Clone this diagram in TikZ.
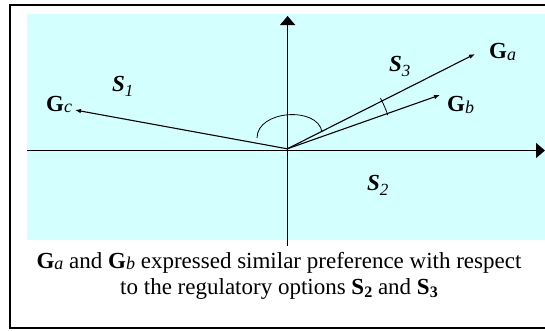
\documentclass[tikz,border=0pt]{standalone}
\usepackage{fontspec}
\setmainfont{Liberation Serif}
\usetikzlibrary{arrows.meta}
\definecolor{paneCyan}{RGB}{212,255,255}
\tikzset{
  axisline/.style={line width=1.3pt,-{Triangle[length=9pt,width=15pt]}},
  vecline/.style={line width=1.1pt,-{Latex[length=6pt,width=4.5pt]}},
  lbl/.style={inner sep=0pt,anchor=base west,font=\fontsize{23}{26}\selectfont},
  slbl/.style={inner sep=0pt,anchor=base west,font=\fontsize{23}{26}\selectfont\bfseries\itshape},
  caption/.style={inner sep=0pt,anchor=base,font=\fontsize{23}{26}\selectfont},
}
\newcommand{\Gsub}[1]{\textbf{G}\raisebox{-1.5pt}{\fontsize{18}{20}\selectfont\itshape #1}}
\newcommand{\Ssub}[1]{S\raisebox{-5pt}{\fontsize{17}{19}\selectfont\mdseries\itshape #1}}
\newcommand{\Sbold}[1]{\textbf{S\raisebox{-3.5pt}{\fontsize{16}{18}\selectfont #1}}}
\begin{document}
\begin{tikzpicture}[x=1pt,y=-1pt]
\useasboundingbox (0,0) rectangle (545,330);
\clip (0,0) rectangle (545,330);
% frame and panel
\draw[line width=1.5pt,fill=white] (10,5) rectangle (560,328);
\fill[paneCyan] (27,14) rectangle (560,240);
% axes
\coordinate (O) at (287.3,148.8);
\coordinate (xl) at (27,150.5);
\coordinate (xr) at (545,150.5);
\coordinate (yb) at (287.6,246);
\coordinate (yt) at (287.6,16);
\draw[axisline] (xl) -- (xr);
\draw[axisline] (yb) -- (yt);
% vectors
\coordinate (Ta) at (475,54);
\coordinate (Tb) at (440,95);
\coordinate (Tc) at (75,110);
\draw[vecline] (O) -- (Ta);
\draw[vecline] (O) -- (Tb);
\draw[vecline] (O) -- (Tc);
% angle arcs
\draw[line width=0.8pt] (257,138) .. controls (257,110) and (318,106) .. (322,132);
\draw[line width=0.8pt] (O) ++(-18.5:106) arc[start angle=-18.5,end angle=-28.5,radius=106];
% labels
\node[lbl] (Ga) at (489,58.7) {\Gsub{a}};
\node[lbl] (Gb) at (447,111.5) {\Gsub{b}};
\node[lbl] (Gc) at (46,111) {\Gsub{c}};
\node[slbl] (S1) at (112,91.5) {\Ssub{1}};
\node[slbl] (S3) at (389,71.7) {\Ssub{3}};
\node[slbl] (S2) at (367,190) {\Ssub{2}};
% caption
\node[caption] (cap1) at (279,268) {\Gsub{a} and \Gsub{b} expressed similar preference with respect};
\node[caption] (cap2) at (279,294) {to the regulatory options \Sbold{2} and \Sbold{3}};
\end{tikzpicture}
\end{document}
